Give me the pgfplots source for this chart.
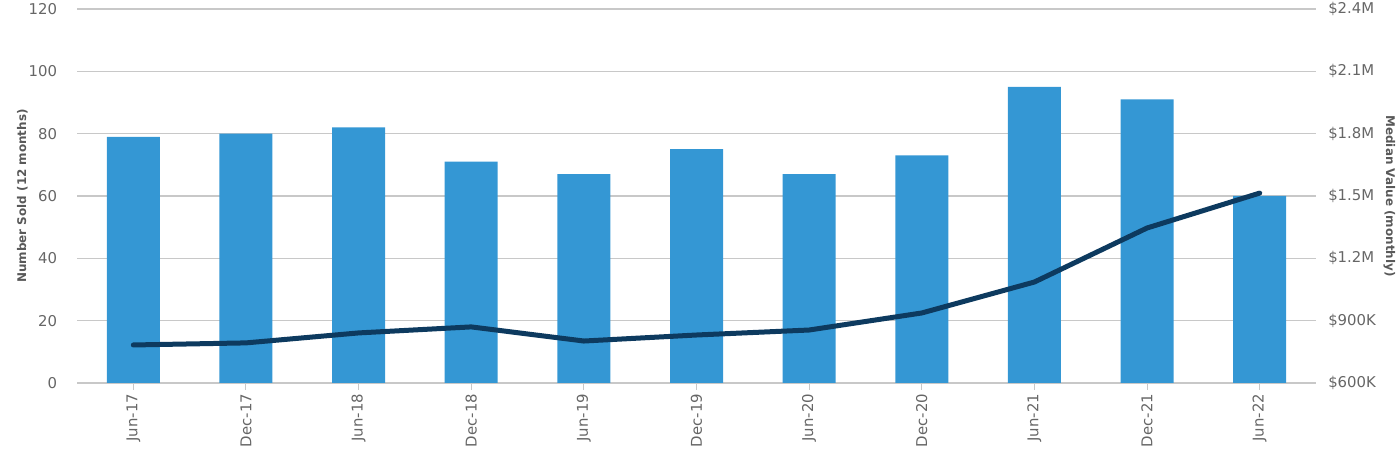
\documentclass[border=0pt]{standalone}
\usepackage{pgfplots}
\pgfplotsset{compat=1.18}
\usepackage{fontspec}
\setmainfont{DejaVu Sans}
\definecolor{barblue}{HTML}{3497D4}
\definecolor{linenavy}{HTML}{0D3A5F}
\definecolor{gridgray}{HTML}{C8C8C8}
\definecolor{labgray}{HTML}{666666}
\definecolor{titgray}{HTML}{595959}
\begin{document}
\begin{tikzpicture}
\useasboundingbox (-57.75bp,-55.5bp) rectangle (992.25bp,287.25bp);
\pgfplotsset{
  common/.style={
    scale only axis, width=929.25bp, height=280.5bp,
    at={(0,0)}, anchor=south west,
    xmin=-0.5, xmax=10.5,
    /pgf/number format/assume math mode=true,
    tick label style={font=\fontsize{11.2}{13}\selectfont, text=labgray},
    label style={font=\bfseries\fontsize{9}{11}\selectfont, text=titgray},
  }
}
\begin{axis}[common,
  ymin=0, ymax=120, ytick={0,20,...,120},
  xtick={0,...,10},
  xticklabels={Jun-17,Dec-17,Jun-18,Dec-18,Jun-19,Dec-19,Jun-20,Dec-20,Jun-21,Dec-21,Jun-22},
  xticklabel style={rotate=90, anchor=east, inner sep=0pt, xshift=-3bp},
  yticklabel style={anchor=east, inner sep=0pt, xshift=-9.75bp},
  axis x line*=bottom, axis y line*=left,
  x axis line style={draw=gridgray, line width=0.8bp, -},
  y axis line style={draw=none},
  tick align=outside,
  major tick length=5bp,
  xtick style={draw=gridgray, line width=0.8bp},
  ytick style={draw=none},
  ymajorgrids, grid style={draw=gridgray, line width=0.8bp},
  ylabel={Number Sold (12 months)},
  ylabel style={at={(axis description cs:0,0.5)}, anchor=center, yshift=41bp},
]
\addplot[ybar, bar width=39.75bp, fill=barblue, draw=none] coordinates {
(0,79) (1,80) (2,82) (3,71) (4,67) (5,75) (6,67) (7,73) (8,95) (9,91) (10,60)};
\end{axis}
\begin{axis}[common,
  ymin=600000, ymax=2400000,
  ytick={600000,900000,1200000,1500000,1800000,2100000,2400000},
  yticklabels={\$600K,\$900K,\$1.2M,\$1.5M,\$1.8M,\$2.1M,\$2.4M},
  axis x line=none, axis y line*=right,
  y axis line style={draw=none},
  ytick style={draw=none},
  yticklabel style={anchor=west, inner sep=0pt, xshift=9bp},
  ylabel={Median Value (monthly)},
  ylabel style={at={(axis description cs:1,0.5)}, anchor=center, rotate=180, yshift=55bp},
]
\addplot[color=linenavy, line width=3.75bp, line join=round, line cap=round] coordinates {
(0,783000) (1,793000) (2,841000) (3,870000) (4,802000) (5,831000) (6,855000) (7,937000) (8,1086000) (9,1346000) (10,1514000)};
\end{axis}
\end{tikzpicture}
\end{document}
